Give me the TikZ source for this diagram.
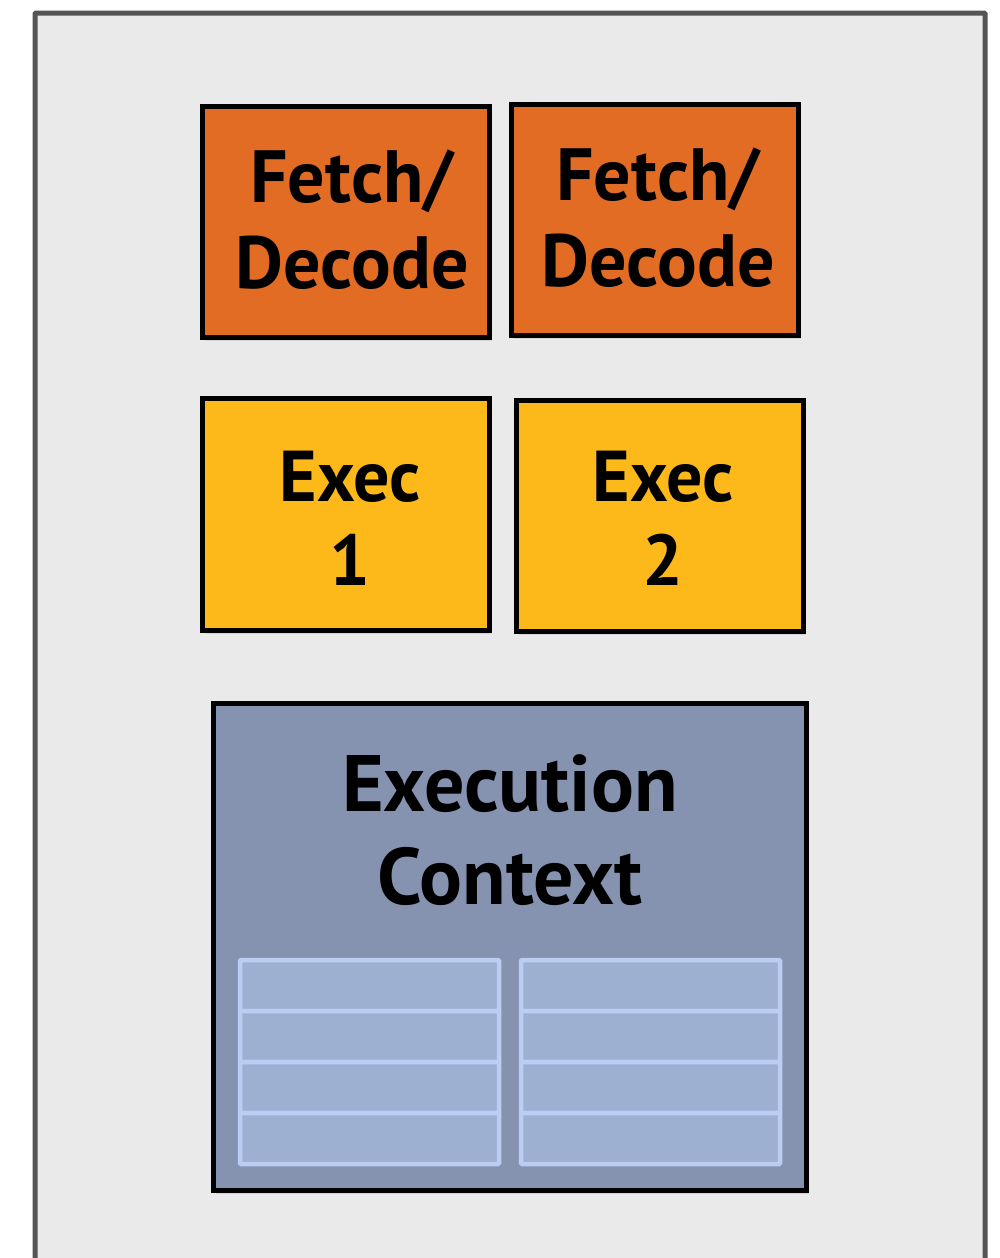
\documentclass[tikz,border=0pt]{standalone}
\usepackage{fontspec}
\setmainfont{PT Sans}
\usetikzlibrary{shadows}
\definecolor{bgfill}{HTML}{EAEAEA}
\definecolor{bgline}{HTML}{555555}
\definecolor{fetchc}{HTML}{E36C24}
\definecolor{execc}{HTML}{FDB91A}
\definecolor{ctxc}{HTML}{8592B0}
\definecolor{regfill}{HTML}{9EB0D2}
\definecolor{regline}{HTML}{BCCDF4}
\tikzset{
  unitbox/.style={draw=black, line width=5pt, drop shadow={shadow xshift=3pt, shadow yshift=-4pt, opacity=0.2}},
  lbl/.style={font=\bfseries, align=center, inner sep=0pt},
  reg/.style={draw=regline, fill=regfill, line width=4.5pt, rounded corners=1pt}
}
\begin{document}
\begin{tikzpicture}[x=1pt,y=-1pt]
\useasboundingbox (0,0) rectangle (1000,1258);
\draw[bgline, fill=bgfill, line width=5pt, rounded corners=1pt] (35,1270) -- (35,13) -- (985,13) -- (985,1270);
% fetch/decode
\draw[unitbox, fill=fetchc] (202,106) rectangle (489,337);
\draw[unitbox, fill=fetchc] (511,104) rectangle (798,335);
\node[lbl, font=\fontsize{74}{86}\selectfont\bfseries] (fd1) at (352,220) {Fetch/\\Decode};
\node[lbl, font=\fontsize{74}{86}\selectfont\bfseries] (fd2) at (658,218) {Fetch/\\Decode};
% exec
\draw[unitbox, fill=execc] (202,398) rectangle (489,630);
\draw[unitbox, fill=execc] (516,400) rectangle (803,631);
\node[lbl, font=\fontsize{72}{84}\selectfont\bfseries] (ex1) at (350,518) {Exec\\1};
\node[lbl, font=\fontsize{72}{84}\selectfont\bfseries] (ex2) at (663,518) {Exec\\2};
% context
\draw[unitbox, fill=ctxc] (213,703) rectangle (806,1190);
\node[lbl, font=\fontsize{80}{93}\selectfont\bfseries] (ctx) at (510,830) {Execution\\Context};
% registers
\foreach \xa/\xb in {240/499, 521/780}{
  \foreach \i in {0,1,2,3}{
    \draw[reg] (\xa,{960+\i*51}) rectangle (\xb,{960+(\i+1)*51});
  }
}
\end{tikzpicture}
\end{document}
